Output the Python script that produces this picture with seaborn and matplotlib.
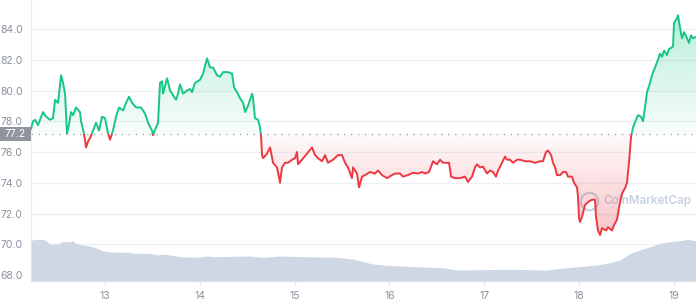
import numpy as np
import pandas as pd
import matplotlib
matplotlib.use("Agg")
import matplotlib.pyplot as plt
import matplotlib.transforms as mtransforms
from matplotlib.patches import Rectangle
from matplotlib.path import Path
from matplotlib.colors import to_rgb
import seaborn as sns

# ---------------- data ----------------
days = [12.219, 12.240, 12.262, 12.293, 12.346, 12.378, 12.420, 12.451, 12.473, 12.504,
        12.536, 12.557, 12.578, 12.589, 12.599, 12.620, 12.641, 12.662, 12.694, 12.736,
        12.747, 12.778, 12.800, 12.821, 12.842, 12.873, 12.905, 12.937, 12.968, 13.000,
        13.032, 13.053, 13.084, 13.116, 13.148, 13.190, 13.222, 13.253, 13.285, 13.327,
        13.380, 13.422, 13.454, 13.496, 13.506, 13.538, 13.559, 13.580, 13.601, 13.612,
        13.654, 13.686, 13.717, 13.749, 13.770, 13.791, 13.823, 13.865, 13.897, 13.918,
        13.949, 14.002, 14.034, 14.076, 14.108, 14.139, 14.181, 14.213, 14.245, 14.297,
        14.340, 14.361, 14.392, 14.424, 14.456, 14.477, 14.508, 14.551, 14.561, 14.582,
        14.614, 14.635, 14.646, 14.656, 14.667, 14.709, 14.741, 14.772, 14.814, 14.846,
        14.867, 14.899, 14.930, 14.973, 15.004, 15.025, 15.036, 15.078, 15.131, 15.184,
        15.215, 15.247, 15.289, 15.321, 15.352, 15.405, 15.458, 15.500, 15.532, 15.563,
        15.605, 15.616, 15.658, 15.679, 15.711, 15.743, 15.795, 15.848, 15.880, 15.922,
        15.975, 16.027, 16.059, 16.112, 16.143, 16.196, 16.249, 16.302, 16.344, 16.376,
        16.418, 16.460, 16.502, 16.534, 16.565, 16.608, 16.629, 16.650, 16.692, 16.745,
        16.797, 16.829, 16.871, 16.903, 16.924, 16.956, 16.987, 17.030, 17.061, 17.093,
        17.124, 17.146, 17.188, 17.219, 17.241, 17.272, 17.304, 17.346, 17.378, 17.430,
        17.483, 17.536, 17.589, 17.620, 17.652, 17.673, 17.705, 17.726, 17.747, 17.768,
        17.800, 17.831, 17.863, 17.884, 17.926, 17.947, 17.979, 17.989, 18.000, 18.011,
        18.032, 18.063, 18.095, 18.137, 18.169, 18.179, 18.200, 18.222, 18.243, 18.285,
        18.306, 18.348, 18.369, 18.401, 18.422, 18.454, 18.485, 18.506, 18.527, 18.549,
        18.570, 18.601, 18.622, 18.654, 18.675, 18.696, 18.717, 18.749, 18.770, 18.802,
        18.833, 18.854, 18.876, 18.897, 18.928, 18.949, 18.981, 18.992, 19.002, 19.034,
        19.044, 19.065, 19.086, 19.108, 19.139, 19.160, 19.181, 19.203, 19.234]

price = [77.5, 78.0, 78.1, 77.75, 78.6, 78.3, 78.1, 78.2, 79.4, 79.2,
         81.0, 80.5, 79.8, 78.5, 77.2, 77.8, 78.6, 78.4, 78.9, 78.6,
         78.0, 77.2, 76.3, 76.7, 76.9, 77.4, 77.9, 77.4, 78.3, 78.2,
         77.2, 76.8, 77.4, 78.3, 78.9, 78.7, 79.2, 79.6, 79.2, 78.9,
         78.9, 78.5, 77.9, 77.4, 77.1, 77.6, 77.9, 80.5, 80.6, 79.8,
         80.8, 80.0, 79.7, 79.4, 79.8, 80.4, 79.8, 80.0, 80.1, 79.9,
         80.5, 80.7, 81.1, 82.1, 81.5, 81.5, 81.0, 80.9, 81.2, 81.2,
         81.1, 80.2, 79.9, 79.5, 79.2, 78.6, 79.0, 79.8, 79.5, 78.2,
         78.1, 77.6, 77.0, 75.8, 75.6, 75.9, 76.3, 75.3, 75.0, 74.0,
         75.0, 75.3, 75.3, 75.5, 75.6, 76.0, 75.2, 75.5, 75.9, 76.3,
         75.8, 75.6, 75.4, 75.8, 75.3, 75.5, 75.8, 75.8, 75.3, 75.0,
         74.3, 75.0, 74.6, 73.7, 74.4, 74.5, 74.7, 74.6, 74.8, 74.5,
         74.3, 74.5, 74.6, 74.6, 74.4, 74.5, 74.65, 74.6, 74.7, 74.6,
         74.7, 75.4, 75.2, 75.5, 75.3, 75.3, 75.3, 74.4, 74.3, 74.3,
         74.4, 74.05, 74.4, 75.0, 75.2, 75.0, 75.05, 74.6, 74.8, 74.7,
         74.4, 74.8, 75.3, 75.7, 75.5, 75.5, 75.3, 75.5, 75.5, 75.4,
         75.4, 75.3, 75.4, 75.4, 76.0, 76.1, 75.8, 75.3, 75.0, 74.5,
         74.5, 74.7, 74.7, 74.4, 74.4, 74.0, 73.7, 73.1, 71.7, 71.45,
         71.8, 72.55, 72.75, 72.9, 72.9, 71.8, 70.9, 70.6, 71.05, 70.9,
         71.1, 70.9, 71.25, 71.6, 72.4, 73.3, 73.65, 74.0, 75.3, 77.0,
         77.6, 78.1, 78.4, 78.3, 78.0, 78.9, 79.9, 80.5, 81.0, 81.5,
         82.0, 82.4, 82.2, 82.6, 82.3, 82.7, 82.8, 82.9, 84.4, 84.7,
         84.9, 84.1, 83.4, 83.8, 83.4, 83.1, 83.6, 83.4, 83.5]

vol_days = [12.219, 12.314, 12.367, 12.420, 12.504, 12.546, 12.631, 12.652, 12.705, 12.757,
            12.842, 12.916, 12.968, 13.053, 13.158, 13.264, 13.295, 13.475, 13.559, 13.601,
            13.686, 13.791, 13.970, 14.087, 14.139, 14.508, 14.667, 14.846, 15.078, 15.447,
            15.616, 15.722, 15.827, 15.932, 16.112, 16.291, 16.565, 16.713, 17.272, 17.662,
            17.800, 17.989, 18.190, 18.295, 18.432, 18.538, 18.643, 18.749, 18.854, 18.960,
            19.065, 19.149, 19.234]
volume = [4.10, 4.17, 4.10, 3.70, 3.70, 3.93, 3.93, 4.03, 3.70, 3.60,
          3.50, 3.27, 3.03, 2.90, 2.87, 2.87, 2.77, 2.77, 2.60, 2.70,
          2.60, 2.43, 2.37, 2.50, 2.43, 2.50, 2.37, 2.50, 2.43, 2.37,
          2.20, 1.93, 1.70, 1.60, 1.50, 1.43, 1.33, 1.10, 1.17, 1.10,
          1.27, 1.43, 1.60, 1.77, 2.10, 2.77, 3.10, 3.43, 3.77, 3.93,
          4.03, 4.17, 4.00]

baseline = 77.2
ytick_vals = [68, 70, 72, 74, 76, 78, 80, 82, 84]
xtick_vals = [13, 14, 15, 16, 17, 18, 19]
xtick_labels = ["13", "14", "15", "16", "17", "18", "19"]

GREEN = "#16c784"
RED = "#ea3943"
VOLC = "#cfd6e4"
TXT = "#8a919f"

df = pd.DataFrame({"day": days, "price": price})
dv = pd.DataFrame({"day": vol_days, "volume": volume})

# ---------------- figure ----------------
sns.set_theme(style="white")
plt.rcParams["font.family"] = ["Inter", "DejaVu Sans"]

fig = plt.figure(figsize=(6.96, 3.0), dpi=100)
ax = fig.add_axes([31 / 696, 19 / 300, 665 / 696, 281 / 300])

xmin, xmax = days[0], days[-1]
ymin, ymax = 67.61, 85.89

p = np.asarray(price)
d = np.asarray(days)

# gradient fills, clipped to the area between line and baseline
def gradient_fill(mask, y0, y1, color, a0, a1, z):
    coll = ax.fill_between(d, p, baseline, where=mask, interpolate=True,
                           facecolor="none", edgecolor="none")
    path = Path.make_compound_path(*coll.get_paths())
    rgb = to_rgb(color)
    n = 256
    img = np.zeros((n, 1, 4))
    img[:, 0, 0:3] = rgb
    img[:, 0, 3] = np.linspace(a0, a1, n)
    im = ax.imshow(img, extent=[xmin, xmax, y0, y1], origin="lower",
                   aspect="auto", zorder=z, interpolation="bilinear")
    im.set_clip_path(path, ax.transData)

gradient_fill(p >= baseline, baseline, 85.0, GREEN, 0.03, 0.30, 1)
gradient_fill(p <= baseline, 70.5, baseline, RED, 0.30, 0.03, 1)

# price line: green above baseline, red below
sns.lineplot(data=df, x="day", y="price", ax=ax, color=GREEN, lw=1.4,
             estimator=None, sort=False, zorder=3)
sns.lineplot(data=df, x="day", y="price", ax=ax, color=RED, lw=1.4,
             estimator=None, sort=False, zorder=3)
green_line, red_line = ax.lines[-2], ax.lines[-1]
green_line.set_clip_path(Rectangle((xmin - 1, baseline), xmax - xmin + 2, 30,
                                   transform=ax.transData))
red_line.set_clip_path(Rectangle((xmin - 1, baseline - 30), xmax - xmin + 2, 30,
                                 transform=ax.transData))

# dotted baseline
ax.axhline(baseline, color="#a4a9b4", lw=1.0, ls=(0, (1, 4)), zorder=2)

# watermark (under the line)
ax.text(603 / 696, 1 - 201 / 300, "CoinMarketCap", transform=fig.transFigure,
        color="#c9d2e0", fontsize=8.4, fontweight="semibold", ha="left",
        va="center", zorder=0.5, clip_on=False)
ax.plot([589 / 696], [1 - 201 / 300], transform=fig.transFigure, marker="o",
        ms=12.5, mfc="none", mec="#c9d2e0", mew=1.6, zorder=0.5, clip_on=False)

ax.set_xlim(xmin, xmax)
ax.set_ylim(ymin, ymax)

ax.set_yticks(ytick_vals)
ax.set_yticklabels([f"{v:.1f}" for v in ytick_vals])
ax.set_xticks(xtick_vals)
ax.set_xticklabels(xtick_labels)
ax.set_xlabel("")
ax.set_ylabel("")
ax.tick_params(axis="y", length=0, pad=6, labelsize=7.5, labelcolor=TXT)
ax.tick_params(axis="x", length=3, width=0.8, color="#dfe2e7", pad=4,
               labelsize=7.5, labelcolor=TXT, bottom=True)
ax.yaxis.grid(True, color="#eef0f3", lw=1.0, zorder=0)
ax.xaxis.grid(False)
for s in ["top", "right"]:
    ax.spines[s].set_visible(False)
ax.spines["left"].set_color("#e9ecf0")
ax.spines["bottom"].set_color("#e2e5ea")
ax.spines["left"].set_linewidth(0.8)
ax.spines["bottom"].set_linewidth(0.8)

# baseline value tag at the left
blend = mtransforms.blended_transform_factory(fig.transFigure, ax.transData)
h = 14 / 15.375
tag = Rectangle((0, baseline - h / 2), 31 / 696, h, transform=blend,
                facecolor="#8f949f", edgecolor="none", clip_on=False, zorder=5)
ax.add_artist(tag)
ax.text(15.5 / 696, baseline, "77.2", transform=blend, color="white",
        fontsize=7.5, ha="center", va="center", zorder=6, clip_on=False)

# volume area on a hidden twin axis
ax2 = ax.twinx()
ax2.fill_between(dv["day"], dv["volume"], 0, color=VOLC, lw=0)
ax2.set_ylim(0, 28.1)
ax2.set_xlim(xmin, xmax)
ax2.set_yticks([])
for s in ax2.spines.values():
    s.set_visible(False)
ax2.grid(False)

fig.savefig("out.png", dpi=100)
